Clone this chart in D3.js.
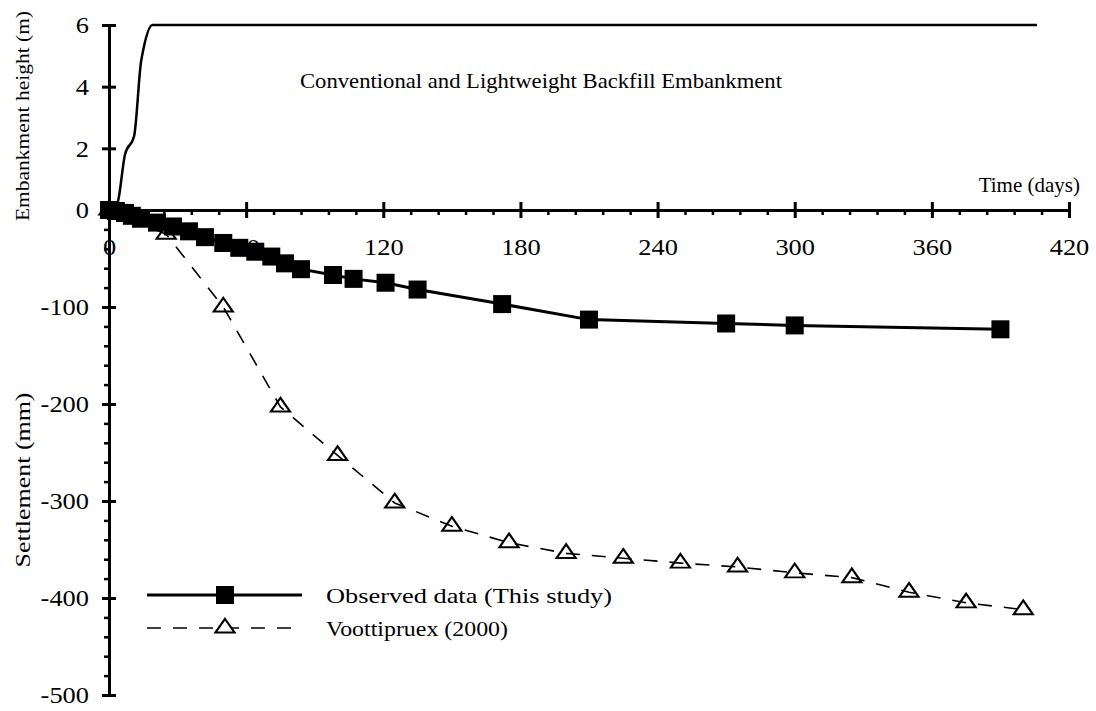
<!DOCTYPE html>
<html>
<head>
<meta charset="utf-8">
<script src="https://cdn.jsdelivr.net/npm/d3@7"></script>
<style>
  body { margin: 0; background: #fff; }
</style>
</head>
<body>
<div id="chart"></div>
<script>
// Settlement / embankment chart

// embankment height (m) vs time (days)
const fillDays = [0, 2, 4, 7, 11, 14, 15, 19, 406]
const fillHeight = [0, 0, 0.3, 1.8, 2.4, 4.8, 5.2, 6, 6]

// observed settlement (mm)
const obsDays = [0, 3, 7, 10, 14, 21, 28, 35, 42, 50, 57, 64, 71, 77, 84, 98, 107, 121, 135, 172, 210, 270, 300, 390]
const obsSettle = [0, -1, -3, -6, -9, -13, -17, -22, -28, -34, -39, -43, -48, -55, -61, -67, -71, -75, -82, -97, -113, -117, -119, -123]

// Voottipruex (2000)
const vDays = [0, 25, 50, 75, 100, 125, 150, 175, 200, 225, 250, 275, 300, 325, 350, 375, 400]
const vSettle = [0, -25, -100, -203, -253, -302, -326, -343, -354, -359, -364, -368, -374, -379, -394, -405, -412]

const xTicks = [0, 60, 120, 180, 240, 300, 360, 420]
const settleTicks = [-100, -200, -300, -400, -500]
const heightTicks = [0, 2, 4, 6]

const serif = '"Liberation Serif", "Times New Roman", serif'
const width = 1096
const height = 711

const svg = d3.select('#chart')
  .append('svg')
  .attr('width', width)
  .attr('height', height)

const x = d3.scaleLinear().domain([0, 420]).range([109, 1069])
const ySettle = d3.scaleLinear().domain([-500, 0]).range([695, 210])
const yHeight = d3.scaleLinear().domain([0, 6]).range([210, 25])

const fill = fillDays.map((d, i) => ({ x: d, y: fillHeight[i] }))
const obs = obsDays.map((d, i) => ({ x: d, y: obsSettle[i] }))
const voot = vDays.map((d, i) => ({ x: d, y: vSettle[i] }))

// the source font is a bit wider than Liberation Serif
function widen(sel, k) {
  sel.each(function () {
    const w = this.getComputedTextLength()
    d3.select(this).attr('textLength', w * k).attr('lengthAdjust', 'spacingAndGlyphs')
  })
}
function fit(sel, w) {
  sel.attr('textLength', w).attr('lengthAdjust', 'spacingAndGlyphs')
}

// minor ticks first
const minorX = d3.range(0, 421, 12).filter(d => d % 60 !== 0)
svg.append('g')
  .attr('transform', `translate(0, ${ySettle(0)})`)
  .call(d3.axisBottom(x).tickValues(minorX).tickSize(5).tickFormat(''))
  .call(g => g.select('.domain').remove())
  .selectAll('line').attr('stroke-width', 2.5)

const minorY = d3.range(-480, 0, 20).filter(d => d % 100 !== 0)
svg.append('g')
  .attr('transform', `translate(${x(0)}, 0)`)
  .call(d3.axisLeft(ySettle).tickValues(minorY).tickSize(5).tickFormat(''))
  .call(g => g.select('.domain').remove())
  .selectAll('line').attr('stroke-width', 2.5)

// y axis (settlement)
const yAxisS = svg.append('g')
  .attr('transform', `translate(${x(0)}, 0)`)
  .call(d3.axisLeft(ySettle).tickValues(settleTicks).tickSize(7).tickSizeOuter(0)
    .tickFormat(d => String(d)))
yAxisS.select('.domain').attr('stroke-width', 3)
yAxisS.selectAll('line').attr('x2', -7).attr('x1', 7).attr('stroke-width', 3)
yAxisS.selectAll('text').attr('x', -20)

// y axis (height)
const yAxisH = svg.append('g')
  .attr('transform', `translate(${x(0)}, 0)`)
  .call(d3.axisLeft(yHeight).tickValues(heightTicks).tickSize(7).tickSizeOuter(0)
    .tickFormat(d3.format('d')))
yAxisH.select('.domain').attr('stroke-width', 3)
yAxisH.selectAll('line').attr('x2', -7).attr('x1', 7).attr('stroke-width', 3)
yAxisH.selectAll('text').attr('x', -20)

// x axis
const xAxis = svg.append('g')
  .attr('transform', `translate(0, ${ySettle(0)})`)
  .call(d3.axisBottom(x).tickValues(xTicks).tickSize(8).tickSizeOuter(0))
xAxis.select('.domain').attr('stroke-width', 3)
xAxis.selectAll('line').attr('y1', -8).attr('stroke-width', 3)
xAxis.selectAll('text').attr('y', 45).attr('dy', 0)

svg.selectAll('g').attr('font-family', serif).attr('font-size', 24)
svg.selectAll('.tick text')
  .attr('fill', '#000')
  .style('font-family', serif)
  .style('font-size', '24px')
svg.selectAll('.domain, .tick line').attr('stroke', '#000')
widen(svg.selectAll('.tick text'), 1.1)

// embankment height curve
svg.append('path')
  .datum(fill)
  .attr('fill', 'none')
  .attr('stroke', '#000')
  .attr('stroke-width', 2.5)
  .attr('d', d3.line().curve(d3.curveMonotoneX).x(d => x(d.x)).y(d => yHeight(d.y)))

// Voottipruex dashed line
svg.append('path')
  .datum(voot)
  .attr('fill', 'none')
  .attr('stroke', '#000')
  .attr('stroke-width', 1.6)
  .attr('stroke-dasharray', '14,12')
  .attr('d', d3.line().x(d => x(d.x)).y(d => ySettle(d.y)))

const tri = d3.symbol().type(d3.symbolTriangle).size(120)
svg.selectAll('.tri')
  .data(voot)
  .enter()
  .append('path')
  .attr('class', 'tri')
  .attr('d', tri)
  .attr('transform', d => `translate(${x(d.x)}, ${ySettle(d.y)}) scale(1.15, 0.95)`)
  .attr('fill', 'none')
  .attr('stroke', '#000')
  .attr('stroke-width', 2)

// observed line + squares
svg.append('path')
  .datum(obs)
  .attr('fill', 'none')
  .attr('stroke', '#000')
  .attr('stroke-width', 3)
  .attr('d', d3.line().x(d => x(d.x)).y(d => ySettle(d.y)))

const sq = 18
svg.selectAll('.sq')
  .data(obs)
  .enter()
  .append('rect')
  .attr('class', 'sq')
  .attr('x', d => x(d.x) - sq / 2)
  .attr('y', d => ySettle(d.y) - sq / 2)
  .attr('width', sq)
  .attr('height', sq)
  .attr('fill', '#000')

// labels
function label(sel, size) {
  return sel.style('font-family', serif).style('font-size', size + 'px').attr('fill', '#000')
}

svg.append('text')
  .attr('x', 541)
  .attr('y', 88)
  .attr('text-anchor', 'middle')
  .call(label, 21)
  .text('Conventional and Lightweight Backfill Embankment')
  .call(fit, 482)

svg.append('text')
  .attr('x', 1080)
  .attr('y', 192)
  .attr('text-anchor', 'end')
  .call(label, 21)
  .text('Time (days)')

svg.append('text')
  .attr('transform', 'translate(29, 116) rotate(-90)')
  .attr('text-anchor', 'middle')
  .call(label, 19)
  .text('Embankment height (m)')
  .call(fit, 210)

svg.append('text')
  .attr('transform', 'translate(30, 480) rotate(-90)')
  .attr('text-anchor', 'middle')
  .call(label, 22)
  .text('Settlement (mm)')
  .call(fit, 175)

// legend
const legend = svg.append('g').attr('id', 'legend')
legend.append('line')
  .attr('x1', 147).attr('x2', 302).attr('y1', 595).attr('y2', 595)
  .attr('stroke', '#000').attr('stroke-width', 3)
legend.append('rect')
  .attr('x', 225 - sq / 2).attr('y', 595 - sq / 2)
  .attr('width', sq).attr('height', sq).attr('fill', '#000')
legend.append('text')
  .attr('x', 326).attr('y', 603)
  .call(label, 22)
  .text('Observed data (This study)')
  .call(fit, 286)

legend.append('line')
  .attr('x1', 147).attr('x2', 302).attr('y1', 628).attr('y2', 628)
  .attr('stroke', '#000').attr('stroke-width', 1.6)
  .attr('stroke-dasharray', '14,12')
legend.append('path')
  .attr('d', tri)
  .attr('transform', 'translate(225, 628) scale(1.15, 0.95)')
  .attr('fill', '#fff').attr('stroke', '#000').attr('stroke-width', 2)
legend.append('text')
  .attr('x', 326).attr('y', 636)
  .call(label, 22)
  .text('Voottipruex (2000)')
  .call(fit, 182)
</script>
</body>
</html>
